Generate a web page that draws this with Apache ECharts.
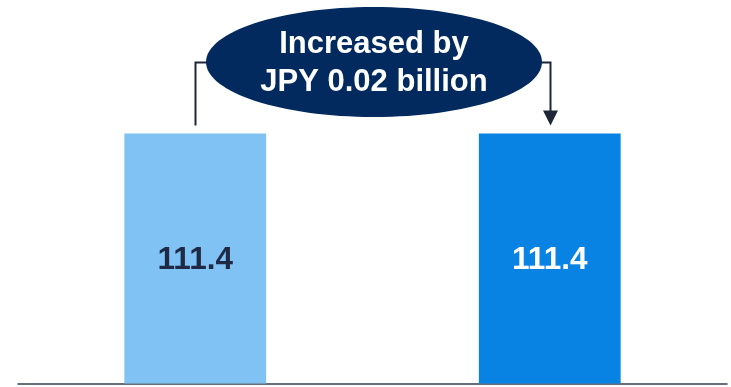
<!DOCTYPE html>
<html>
<head>
<meta charset="utf-8">
<style>
  html, body { margin: 0; padding: 0; background: #ffffff; }
  #chart { width: 731px; height: 387px; }
</style>
<script src="https://cdn.jsdelivr.net/npm/echarts@6/dist/echarts.min.js"></script>
</head>
<body>
<div id="chart"></div>
<script>
// Two periods compared side by side
const categories = ['Previous', 'Current'];
const values = [111.4, 111.4];
const barColors = ['#80c2f3', '#0882e3'];
const labelColors = ['#1f2b45', '#ffffff'];
const noteLines = ['Increased by', 'JPY 0.02 billion'];

const FONT = '"Liberation Sans", Arial, sans-serif';
const NAVY = '#022a5e';
const LINE = '#1e2637';

const chart = echarts.init(document.getElementById('chart'), null, { renderer: 'canvas' });

chart.setOption({
  animation: false,
  backgroundColor: '#ffffff',
  grid: { left: 18, right: 4, top: 47, bottom: 3.5 },
  xAxis: {
    type: 'category',
    data: categories,
    axisLine: { show: true, lineStyle: { color: '#333f50', width: 1.5 } },
    axisTick: { show: false },
    axisLabel: { show: false }
  },
  yAxis: {
    type: 'value',
    min: 0,
    max: 150,
    show: false,
    splitLine: { show: false }
  },
  series: [{
    type: 'bar',
    barWidth: '40%',
    data: values.map((v, i) => ({
      value: v,
      itemStyle: { color: barColors[i] },
      label: { color: labelColors[i] }
    })),
    label: {
      show: true,
      position: 'inside',
      offset: [0, 2],
      fontFamily: FONT,
      fontWeight: 'bold',
      fontSize: 31.5,
      formatter: p => p.value.toFixed(1)
    }
  }]
});

// Bracket + callout placed from the bar positions on the axes
function drawCallout() {
  const p0 = chart.convertToPixel({ seriesIndex: 0 }, [0, values[0]]);
  const p1 = chart.convertToPixel({ seriesIndex: 0 }, [1, values[1]]);
  const x0 = Math.round(p0[0]) + 0.5;
  const x1 = Math.round(p1[0]) + 0.5;
  const yTop0 = p0[1] - 8;
  const yTop1 = p1[1] - 8;
  const yBracket = 62.5;
  const cx = (x0 + x1) / 2 + 1;
  const cy = 62;

  chart.setOption({
    graphic: [
      {
        type: 'polyline',
        z: 10,
        shape: { points: [[x0, yTop0], [x0, yBracket], [x1, yBracket], [x1, yTop1 - 14]] },
        style: { stroke: LINE, lineWidth: 2, fill: null }
      },
      {
        type: 'polygon',
        z: 10,
        shape: { points: [[x1 - 7.5, yTop1 - 15], [x1 + 7.5, yTop1 - 15], [x1, yTop1]] },
        style: { fill: LINE }
      },
      {
        type: 'ellipse',
        z: 11,
        shape: { cx: cx, cy: cy, rx: 168, ry: 55 },
        style: { fill: NAVY }
      },
      {
        type: 'text',
        z: 12,
        x: cx,
        y: cy + 1,
        style: {
          text: noteLines.join('\n'),
          fill: '#ffffff',
          font: 'bold 31px ' + FONT,
          lineHeight: 38,
          align: 'center',
          verticalAlign: 'middle'
        }
      }
    ]
  });
}
drawCallout();
</script>
</body>
</html>
